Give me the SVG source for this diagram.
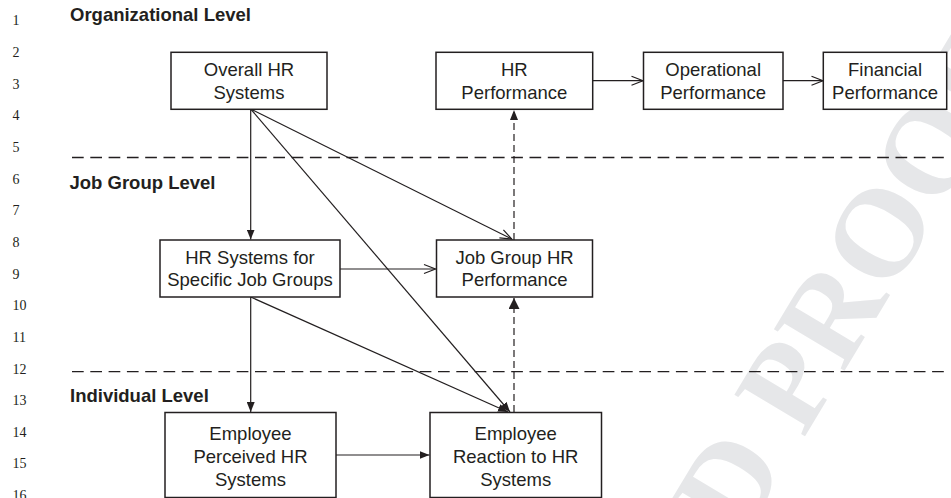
<svg xmlns="http://www.w3.org/2000/svg" width="951" height="498" viewBox="0 0 951 498">
<style>
.bg{fill:#ffffff}
.wm{fill:#e6e7e9;font-family:"Liberation Serif",serif;font-weight:bold;font-size:125px}
.ln{fill:#231f20;font-family:"Liberation Serif",serif;font-size:14px}
.lvl{fill:#231f20;font-family:"Liberation Sans",Arial,sans-serif;font-weight:bold;font-size:18.5px}
.box{fill:#ffffff;stroke:#231f20;stroke-width:1.5}
.t{fill:#231f20;font-family:"Liberation Sans",Arial,sans-serif;font-size:18.5px;text-anchor:middle}
.sep{stroke:#231f20;stroke-width:1.3;stroke-dasharray:11.7 6.6;fill:none}
.c{stroke:#231f20;stroke-width:1.2;fill:none}
.d{stroke:#231f20;stroke-width:1.2;fill:none;stroke-dasharray:7 4}
</style>
<defs>
<marker id="fill" markerUnits="userSpaceOnUse" viewBox="0 0 10 8" refX="10" refY="4" markerWidth="10" markerHeight="8" orient="auto">
<path d="M0,0 L10,4 L0,8 z" fill="#231f20"/>
</marker>
<marker id="fillBig" markerUnits="userSpaceOnUse" viewBox="0 0 11 11" refX="11" refY="5.5" markerWidth="11" markerHeight="11" orient="auto">
<path d="M0,0 L11,5.5 L0,11 z" fill="#231f20"/>
</marker>
<marker id="open" markerUnits="userSpaceOnUse" viewBox="-1 -1 14 11" refX="11.5" refY="4.5" markerWidth="14" markerHeight="11" orient="auto" overflow="visible">
<path d="M0,0 L11.5,4.5 L0,9" fill="none" stroke="#231f20" stroke-width="1.2"/>
</marker>
</defs>
<rect class="bg" x="0" y="0" width="951" height="498"/>
<text class="wm" transform="translate(741,542.8) rotate(-59)">D PROOF</text>

<g id="line-numbers">
<text class="ln" x="12.5" y="25.3">1</text>
<text class="ln" x="12.5" y="57">2</text>
<text class="ln" x="12.5" y="88.6">3</text>
<text class="ln" x="12.5" y="120.3">4</text>
<text class="ln" x="12.5" y="151.9">5</text>
<text class="ln" x="12.5" y="183.6">6</text>
<text class="ln" x="12.5" y="215.2">7</text>
<text class="ln" x="12.5" y="246.9">8</text>
<text class="ln" x="12.5" y="278.5">9</text>
<text class="ln" x="12.5" y="310.2">10</text>
<text class="ln" x="12.5" y="341.8">11</text>
<text class="ln" x="12.5" y="373.5">12</text>
<text class="ln" x="12.5" y="405.1">13</text>
<text class="ln" x="12.5" y="436.8">14</text>
<text class="ln" x="12.5" y="468.4">15</text>
<text class="ln" x="12.5" y="500.1">16</text>
</g>

<g id="levels">
<text class="lvl" x="70" y="21">Organizational Level</text>
<text class="lvl" x="69.5" y="188.5">Job Group Level</text>
<text class="lvl" x="70" y="401.5">Individual Level</text>
<line class="sep" x1="72" y1="157.5" x2="946" y2="157.5"/>
<line class="sep" x1="72" y1="371.7" x2="946" y2="371.7"/>
</g>

<g id="connectors">
<line class="c" x1="250.7" y1="109" x2="250.7" y2="239.5" marker-end="url(#fill)"/>
<line class="c" x1="250.7" y1="109" x2="511.7" y2="239" marker-end="url(#open)"/>
<line class="c" x1="250.7" y1="109" x2="510" y2="412" marker-end="url(#fill)"/>
<line class="c" x1="250.7" y1="297" x2="250.7" y2="412" marker-end="url(#fill)"/>
<line class="c" x1="250.7" y1="297" x2="508" y2="412" marker-end="url(#fill)"/>
<line class="c" x1="340" y1="269" x2="435.5" y2="269" marker-end="url(#open)"/>
<line class="d" x1="514" y1="240" x2="514" y2="110" marker-end="url(#fill)"/>
<line class="d" x1="514" y1="412" x2="514" y2="298" marker-end="url(#fillBig)"/>
<line class="c" x1="592.7" y1="80.7" x2="643" y2="80.7" marker-end="url(#open)"/>
<line class="c" x1="783" y1="80.7" x2="823" y2="80.7" marker-end="url(#open)"/>
<line class="c" x1="336" y1="455" x2="429.5" y2="455" marker-end="url(#fill)"/>
</g>

<g id="overall-hr-systems">
<rect class="box" x="171" y="52.3" width="156" height="57"/>
<text class="t" x="249" y="76">Overall HR</text>
<text class="t" x="249" y="98.5">Systems</text>
</g>
<g id="hr-performance">
<rect class="box" x="436" y="52.3" width="156.7" height="57"/>
<text class="t" x="514.3" y="76">HR</text>
<text class="t" x="514.3" y="98.5">Performance</text>
</g>
<g id="operational-performance">
<rect class="box" x="643.5" y="52.3" width="139.5" height="57"/>
<text class="t" x="713.2" y="76">Operational</text>
<text class="t" x="713.2" y="98.5">Performance</text>
</g>
<g id="financial-performance">
<rect class="box" x="823.3" y="52.3" width="123.4" height="57"/>
<text class="t" x="885" y="76">Financial</text>
<text class="t" x="885" y="98.5">Performance</text>
</g>
<g id="hr-systems-specific">
<rect class="box" x="160" y="240" width="180" height="57"/>
<text class="t" x="250" y="263.5">HR Systems for</text>
<text class="t" x="250" y="286">Specific Job Groups</text>
</g>
<g id="job-group-hr-performance">
<rect class="box" x="436.5" y="240" width="156" height="57"/>
<text class="t" x="514.5" y="263.5">Job Group HR</text>
<text class="t" x="514.5" y="286">Performance</text>
</g>
<g id="employee-perceived">
<rect class="box" x="165" y="412.5" width="171" height="85"/>
<text class="t" x="250.5" y="439.5">Employee</text>
<text class="t" x="250.5" y="462.5">Perceived HR</text>
<text class="t" x="250.5" y="485.5">Systems</text>
</g>
<g id="employee-reaction">
<rect class="box" x="430" y="412.5" width="171.5" height="85"/>
<text class="t" x="515.7" y="439.5">Employee</text>
<text class="t" x="515.7" y="462.5">Reaction to HR</text>
<text class="t" x="515.7" y="485.5">Systems</text>
</g>
</svg>
